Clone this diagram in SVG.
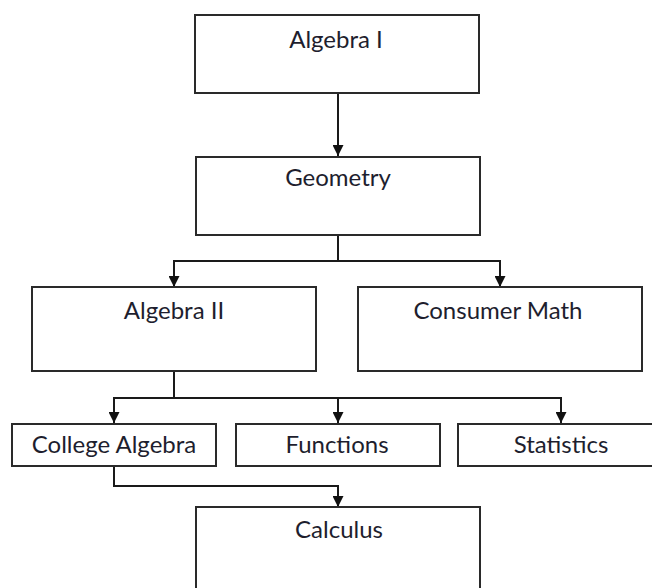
<svg xmlns="http://www.w3.org/2000/svg" width="652" height="588" viewBox="0 0 652 588">
  <style>
    .box { fill: #ffffff; stroke: #2a2a2a; stroke-width: 2; }
    .lbl { font-family: Lato, "Liberation Sans", sans-serif; font-size: 24px; fill: #1e1e2e; text-anchor: middle; }
    .conn { fill: none; stroke: #1a1a1a; stroke-width: 2; }
  </style>
  <defs>
    <marker id="arrow" markerUnits="userSpaceOnUse" markerWidth="11" markerHeight="11" refX="10" refY="5" orient="auto" viewBox="0 0 10 10">
      <path d="M0,0 L10,5 L0,10 Z" fill="#111111"/>
    </marker>
  </defs>
  <rect width="652" height="588" fill="#ffffff"/>

  <g id="connectors">
    <path class="conn" d="M338,93 V156" marker-end="url(#arrow)"/>
    <path class="conn" d="M338,235 V261 H174 V287" marker-end="url(#arrow)"/>
    <path class="conn" d="M338,261 H500 V287" marker-end="url(#arrow)"/>
    <path class="conn" d="M174,371 V398 H114 V423" marker-end="url(#arrow)"/>
    <path class="conn" d="M174,398 H338 V423" marker-end="url(#arrow)"/>
    <path class="conn" d="M338,398 H561 V423" marker-end="url(#arrow)"/>
    <path class="conn" d="M114,466 V486 H338 V507" marker-end="url(#arrow)"/>
  </g>

  <g id="algebra1">
    <rect class="box" x="195" y="15" width="284" height="78"/>
    <text class="lbl" x="336" y="48">Algebra I</text>
  </g>
  <g id="geometry">
    <rect class="box" x="196" y="157" width="284" height="78"/>
    <text class="lbl" x="338" y="186">Geometry</text>
  </g>
  <g id="algebra2">
    <rect class="box" x="32" y="287" width="284" height="84"/>
    <text class="lbl" x="174" y="319">Algebra II</text>
  </g>
  <g id="consumer-math">
    <rect class="box" x="358" y="287" width="284" height="84"/>
    <text class="lbl" x="498" y="319">Consumer Math</text>
  </g>
  <g id="college-algebra">
    <rect class="box" x="12" y="424" width="204" height="42"/>
    <text class="lbl" x="114" y="453">College Algebra</text>
  </g>
  <g id="functions">
    <rect class="box" x="236" y="424" width="204" height="42"/>
    <text class="lbl" x="337" y="453">Functions</text>
  </g>
  <g id="statistics">
    <rect class="box" x="458" y="424" width="210" height="42"/>
    <text class="lbl" x="561" y="453">Statistics</text>
  </g>
  <g id="calculus">
    <rect class="box" x="196" y="507" width="284" height="100"/>
    <text class="lbl" x="339" y="538">Calculus</text>
  </g>
</svg>
